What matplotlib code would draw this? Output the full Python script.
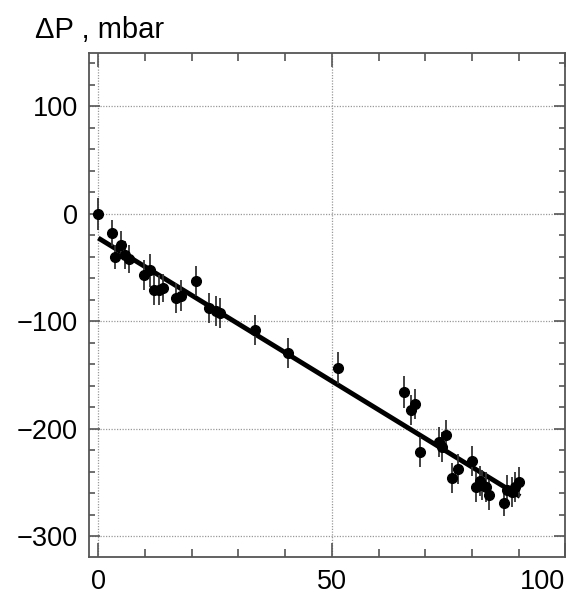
import matplotlib
matplotlib.use("Agg")
import matplotlib.pyplot as plt
from matplotlib.ticker import MultipleLocator

plt.rcParams['font.family'] = ['Liberation Sans', 'DejaVu Sans']

# measured points (x, dP in mbar) and their errors
x_val = [0.0, 3.0, 3.6, 4.8, 5.7, 6.6, 9.8, 11.0, 11.9, 13.0, 13.9, 16.7, 17.8,
         20.9, 23.8, 25.2, 26.0, 33.6, 40.7, 51.4, 65.5, 67.0, 67.7, 68.8,
         72.9, 73.6, 74.5, 75.8, 77.1, 80.0, 80.8, 81.7, 82.2, 82.9, 83.7,
         86.8, 87.4, 88.5, 89.2, 90.1]
dp_val = [0, -17.6, -40, -29.4, -38.7, -41.8, -56.6, -52.6, -71, -71, -69, -78,
          -76, -62.6, -87.6, -90.7, -92.3, -108.4, -129.4, -143.4, -166, -182.6,
          -177, -222, -212.6, -216.7, -206, -245.5, -237, -229.8, -253.9, -249,
          -252, -253.9, -261.6, -269.3, -257, -258.5, -253.9, -249.8]
dp_err = [15, 12, 11, 13, 13, 13, 14, 15, 14, 14, 13, 14, 14, 14, 14, 14, 14,
          14, 14, 15, 15, 14, 14, 14, 14, 14, 14, 14, 14, 14, 14, 14, 14, 14,
          14, 12, 14, 14, 14, 14]

# linear fit line ends
fit_x = [0.0, 90.3]
fit_y = [-22.5, -263.0]

fig = plt.figure(figsize=(5.74, 5.96), dpi=100)
ax = fig.add_axes([0.155, 0.066, 0.83, 0.8456])

ax.plot(fit_x, fit_y, color='black', lw=3.5, solid_capstyle='butt', zorder=3)
ax.errorbar(x_val, dp_val, yerr=dp_err, fmt='o', color='black', ms=7,
            ecolor='#333333', elinewidth=1.3, capsize=0, zorder=4)

ax.set_xlim(-2.0, 99.6)
ax.set_ylim(-319, 150)

ax.xaxis.set_major_locator(MultipleLocator(50))
ax.xaxis.set_minor_locator(MultipleLocator(10))
ax.yaxis.set_major_locator(MultipleLocator(100))
ax.yaxis.set_minor_locator(MultipleLocator(20))

ax.grid(True, which='major', linestyle=(0, (1, 1.2)), color='#999999', lw=0.9)
ax.set_axisbelow(True)

ax.tick_params(which='both', direction='in', top=True, right=True,
               colors='#555555', labelcolor='black', labelsize=19.5)
ax.tick_params(axis='x', which='major', length=10, width=1.2, pad=9)
ax.tick_params(axis='x', which='minor', length=6, width=1.2)
ax.tick_params(axis='y', which='major', length=8, width=1.2, pad=8)
ax.tick_params(axis='y', which='minor', length=4, width=1.2)

ax.set_xticks([0, 50, 100])
ax.set_xticklabels(['0', '50', '100'])
ax.get_xticklabels()[-1].set_horizontalalignment('right')
ax.set_yticks([-300, -200, -100, 0, 100])
ax.set_yticklabels(['\u2212300', '\u2212200', '\u2212100', '0', '100'])

for sp in ax.spines.values():
    sp.set_color('#555555')
    sp.set_linewidth(1.3)

fig.text(35 / 574, 1 - 38 / 596, '\u0394P , mbar', fontsize=21,
         ha='left', va='baseline')

fig.savefig('out.png', dpi=100)
